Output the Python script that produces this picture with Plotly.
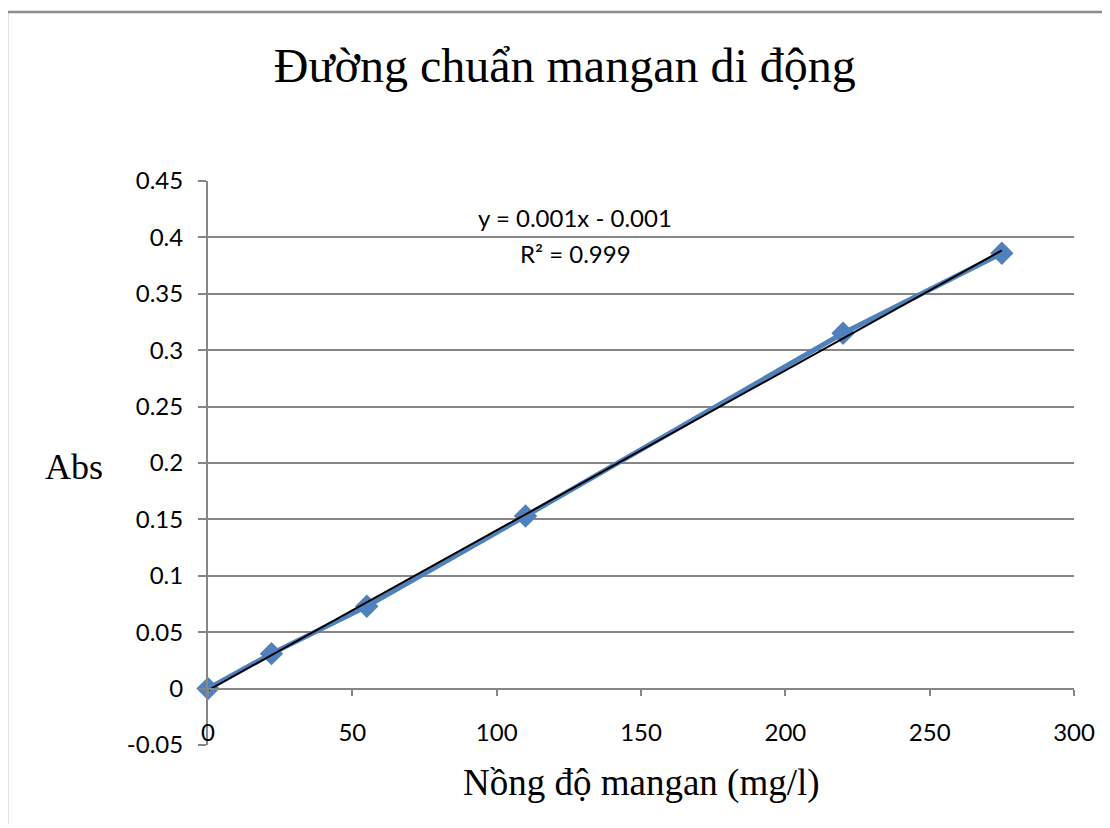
import numpy as np
import plotly.graph_objects as go

# Data
conc = [0, 22, 55, 110, 220, 275]            # Nồng độ mangan (mg/l)
absorb = [0.0, 0.031, 0.073, 0.153, 0.315, 0.386]  # Abs

y_tickvals = [-0.05, 0, 0.05, 0.1, 0.15, 0.2, 0.25, 0.3, 0.35, 0.4, 0.45]
y_ticktext = ["-0.05", "0", "0.05", "0.1", "0.15", "0.2", "0.25", "0.3", "0.35", "0.4", "0.45"]
x_tickvals = [0, 50, 100, 150, 200, 250, 300]
x_ticktext = ["0", "50", "100", "150", "200", "250", "300"]

title_text = "Đường chuẩn mangan di động"
x_title = "Nồng độ mangan (mg/l)"
y_title = "Abs"
eq_text = "y = 0.001x - 0.001"
r2_text = "R² = 0.999"

# Linear trendline fitted from the data
slope, intercept = np.polyfit(conc, absorb, 1)
trend_x = [min(conc), max(conc)]
trend_y = [slope * v + intercept for v in trend_x]

BLUE = "#4F81BD"
GRID = "#868686"
SERIF = "Liberation Serif, Times New Roman, serif"
SANS = "Lato, Calibri, sans-serif"

fig = go.Figure()
fig.add_trace(go.Scatter(
    x=conc, y=absorb, mode="lines+markers",
    line=dict(color=BLUE, width=5),
    marker=dict(symbol="diamond", size=18, color=BLUE),
    showlegend=False, cliponaxis=False,
))
fig.add_trace(go.Scatter(
    x=trend_x, y=trend_y, mode="lines",
    line=dict(color="black", width=2),
    showlegend=False, cliponaxis=False,
))

fig.update_layout(
    width=1100, height=816,
    margin=dict(l=200, r=34, t=173, b=79),
    paper_bgcolor="white", plot_bgcolor="white",
    xaxis=dict(
        range=[0, 300], tickvals=x_tickvals, ticktext=x_ticktext,
        showgrid=False, zeroline=False,
        showline=True, linecolor=GRID, linewidth=2,
        ticks="outside", ticklen=6, tickcolor=GRID, tickwidth=2,
        anchor="free", position=0.1,
        ticklabelstandoff=17,
        tickfont=dict(family=SANS, size=24, color="black"),
    ),
    yaxis=dict(
        range=[-0.05, 0.45], tickvals=y_tickvals, ticktext=y_ticktext,
        showgrid=True, gridcolor=GRID, gridwidth=1.5,
        zeroline=False,
        showline=True, linecolor=GRID, linewidth=2,
        ticks="outside", ticklen=8, tickcolor=GRID, tickwidth=2,
        ticklabelstandoff=10,
        tickfont=dict(family=SANS, size=24, color="black"),
    ),
    title=dict(text=title_text, xref="paper", x=0.412, xanchor="center",
               yref="container", y=0.930, yanchor="middle",
               font=dict(family=SERIF, size=48, color="black")),
    annotations=[
        dict(text=y_title, xref="paper", yref="paper", x=-0.1547, y=0.493,
             xanchor="center", yanchor="middle", showarrow=False,
             font=dict(family=SERIF, size=36, color="black")),
        dict(text=x_title, xref="paper", yref="paper", x=0.501, y=-0.0674,
             xanchor="center", yanchor="middle", showarrow=False,
             font=dict(family=SERIF, size=37, color="black")),
        dict(text=eq_text, xref="paper", yref="paper", x=0.424, y=0.936,
             xanchor="center", yanchor="middle", showarrow=False,
             font=dict(family=SANS, size=24, color="black")),
        dict(text=r2_text, xref="paper", yref="paper", x=0.424, y=0.872,
             xanchor="center", yanchor="middle", showarrow=False,
             font=dict(family=SANS, size=24, color="black")),
    ],
    shapes=[dict(type="rect", xref="paper", yref="paper",
                 x0=-0.2321, x1=1.1, y0=-0.2, y1=1.2996,
                 line=dict(color="#8C8C8C", width=2.5), fillcolor="rgba(0,0,0,0)",
                 layer="below")],
)

fig.write_html("out.html")
